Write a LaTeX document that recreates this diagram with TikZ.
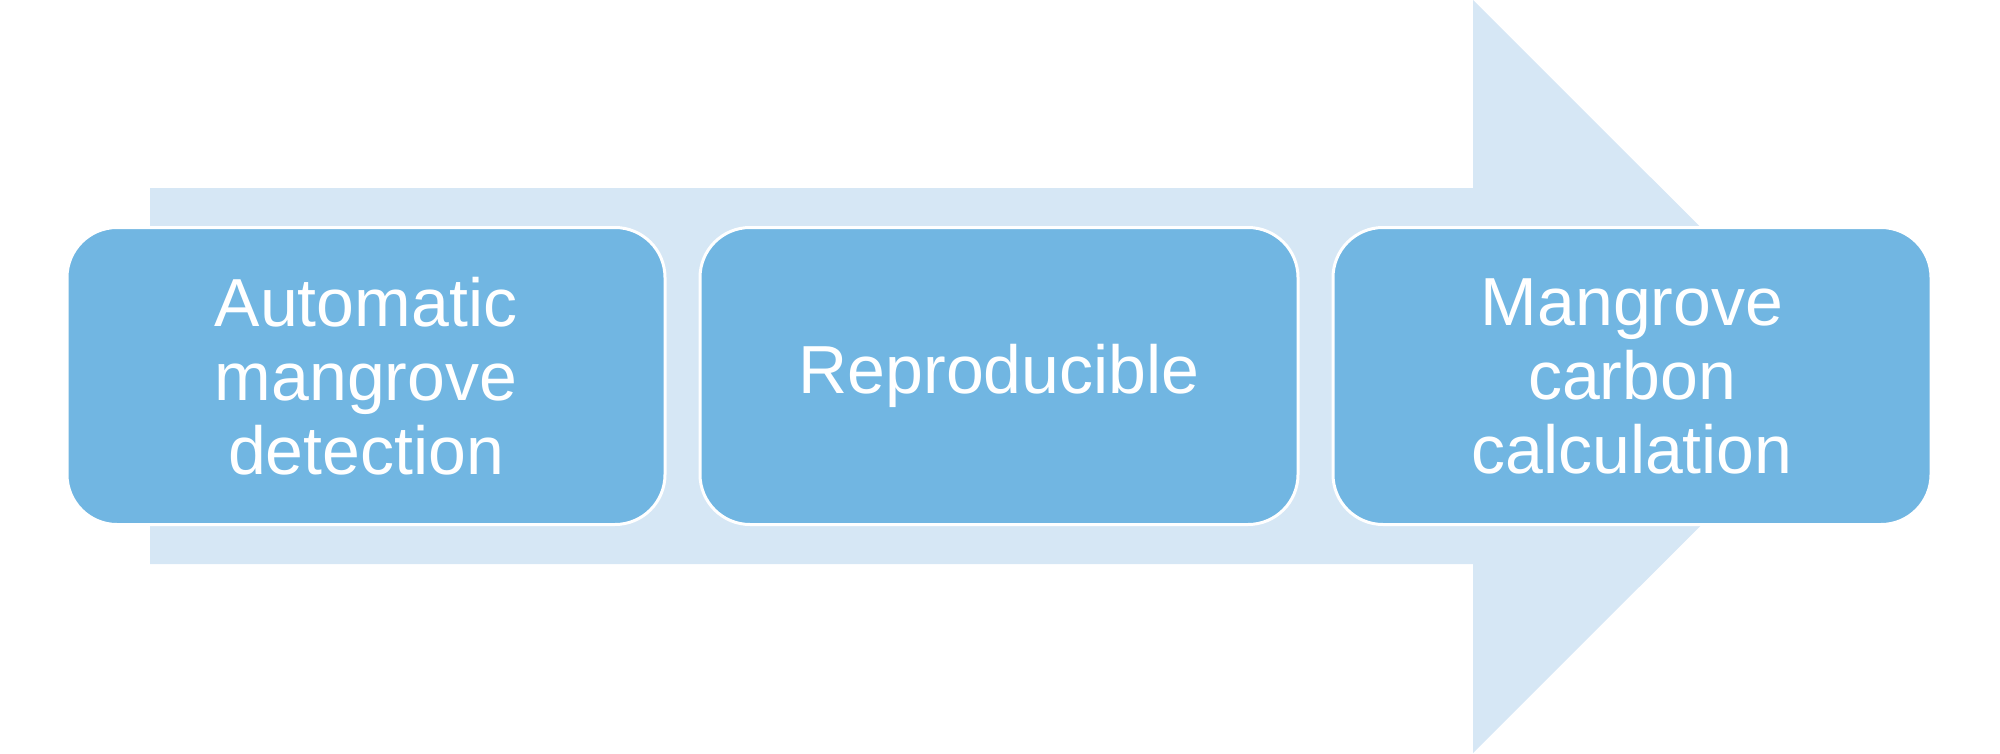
\documentclass[tikz,border=0pt]{standalone}
\usepackage{fontspec}
\setmainfont{Liberation Sans}
\definecolor{arrowc}{HTML}{D6E7F5}
\definecolor{boxc}{HTML}{71B6E2}
\begin{document}
\begin{tikzpicture}[x=1pt,y=-1pt,
  stepbox/.style={draw=white, line width=3pt, fill=boxc, rounded corners=50pt,
    minimum width=598pt, minimum height=297pt, text=white, align=center,
    font=\fontsize{68}{74}\selectfont, inner sep=0pt}]
\useasboundingbox (0,0) rectangle (2000,753);
\fill[arrowc] (150,188) -- (1473,188) -- (1473,0) -- (1850,376.5) -- (1473,753) -- (1473,564) -- (150,564) -- cycle;
\node[stepbox] (a) at (366,376) {Automatic\\mangrove\\detection};
\node[stepbox] (b) at (999,376) {Reproducible};
\node[stepbox] (c) at (1632,376) {Mangrove\\carbon\\calculation};
\end{tikzpicture}
\end{document}
